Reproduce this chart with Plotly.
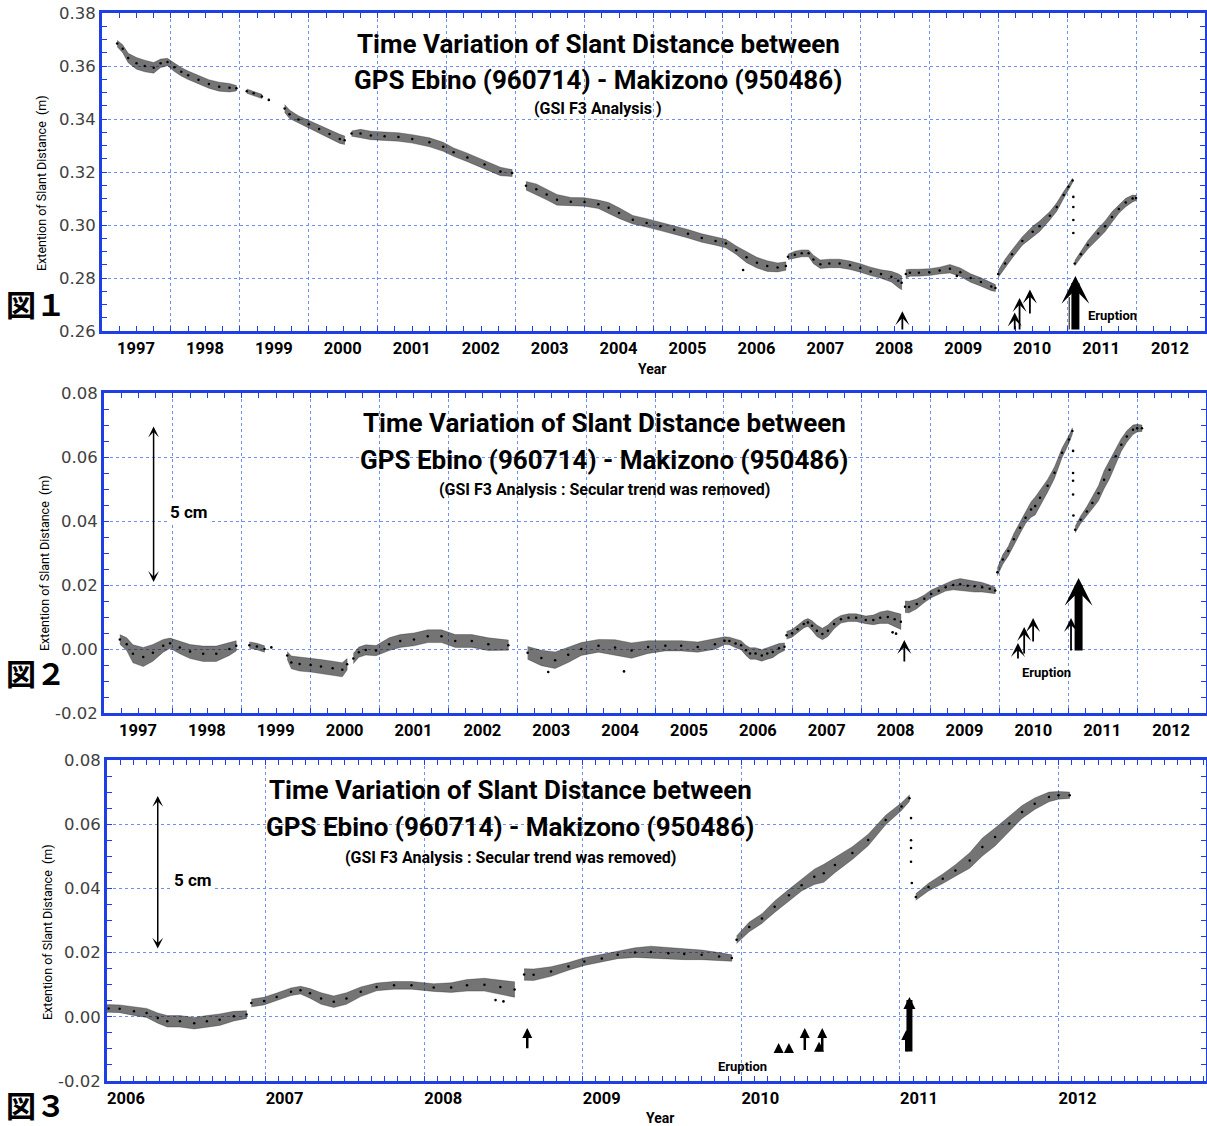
import plotly.graph_objects as go

W, H = 1207, 1126

# ---------------- data ----------------
# Panel 1: raw slant distance (m); None separates observation gaps
raw_year = [1997.22, 1997.30, 1997.38, 1997.50, 1997.62, 1997.75, 1997.85, 1997.95, 1998.05, 1998.15,
            1998.25, 1998.40, 1998.55, 1998.70, 1998.85, 1998.95, None,
            1999.10, 1999.20, 1999.32, None,
            1999.65, 1999.72, 1999.85, 2000.00, 2000.15, 2000.30, 2000.45, 2000.52, None,
            2000.62, 2000.75, 2000.90, 2001.10, 2001.30, 2001.50, 2001.75, 2001.95, 2002.10, 2002.30,
            2002.55, 2002.78, 2002.95, None,
            2003.15, 2003.30, 2003.45, 2003.60, 2003.80, 2004.00, 2004.20, 2004.35, 2004.50, 2004.70,
            2004.90, 2005.10, 2005.30, 2005.50, 2005.70, 2005.90, 2006.05, 2006.20, 2006.35, 2006.50,
            2006.65, 2006.80, 2006.92, None,
            2006.95, 2007.05, 2007.15, 2007.25, 2007.32, 2007.42, 2007.55, 2007.70, 2007.85, 2008.00,
            2008.15, 2008.30, 2008.45, 2008.55, 2008.60, None,
            2008.66, 2008.72, 2008.85, 2009.00, 2009.15, 2009.30, 2009.45, 2009.60, 2009.75, 2009.90,
            2009.96, None,
            2010.00, 2010.10, 2010.20, 2010.35, 2010.50, 2010.60, 2010.75, 2010.85, 2010.95, 2011.02,
            2011.08, None,
            2011.11, 2011.20, 2011.30, 2011.45, 2011.55, 2011.65, 2011.75, 2011.85, 2011.95, 2012.00]
raw_mid = [0.3685, 0.3665, 0.3630, 0.3610, 0.3600, 0.3593, 0.3610, 0.3615, 0.3595, 0.3578,
           0.3565, 0.3548, 0.3532, 0.3522, 0.3518, 0.3516, None,
           0.3505, 0.3497, 0.3485, None,
           0.3440, 0.3418, 0.3398, 0.3380, 0.3362, 0.3343, 0.3325, 0.3320, None,
           0.3345, 0.3345, 0.3338, 0.3335, 0.3332, 0.3325, 0.3312, 0.3295, 0.3275, 0.3255,
           0.3228, 0.3202, 0.3196, None,
           0.3148, 0.3135, 0.3115, 0.3095, 0.3088, 0.3087, 0.3078, 0.3065, 0.3045, 0.3020,
           0.3008, 0.2995, 0.2982, 0.2967, 0.2951, 0.2940, 0.2930, 0.2905, 0.2878, 0.2858,
           0.2845, 0.2840, 0.2845, None,
           0.2880, 0.2888, 0.2893, 0.2893, 0.2870, 0.2852, 0.2855, 0.2855, 0.2848, 0.2838,
           0.2825, 0.2815, 0.2805, 0.2790, 0.2782, None,
           0.2815, 0.2820, 0.2820, 0.2822, 0.2828, 0.2835, 0.2822, 0.2800, 0.2785, 0.2768,
           0.2762, None,
           0.2815, 0.2855, 0.2890, 0.2940, 0.2975, 0.2995, 0.3035, 0.3068, 0.3113, 0.3144,
           0.3168, None,
           0.2855, 0.2890, 0.2925, 0.2968, 0.2995, 0.3030, 0.3060, 0.3085, 0.3100, 0.3102]
raw_spread = [0.0012, 0.0015, 0.0018, 0.0022, 0.0022, 0.0020, 0.0016, 0.0014, 0.0016, 0.0016,
              0.0016, 0.0016, 0.0016, 0.0017, 0.0016, 0.0010, None,
              0.0008, 0.0008, 0.0008, None,
              0.0015, 0.0016, 0.0014, 0.0014, 0.0016, 0.0016, 0.0017, 0.0016, None,
              0.0010, 0.0016, 0.0016, 0.0016, 0.0016, 0.0016, 0.0017, 0.0017, 0.0016, 0.0016,
              0.0016, 0.0016, 0.0013, None,
              0.0016, 0.0020, 0.0020, 0.0020, 0.0016, 0.0016, 0.0016, 0.0020, 0.0020, 0.0016,
              0.0016, 0.0016, 0.0016, 0.0016, 0.0016, 0.0016, 0.0016, 0.0016, 0.0020, 0.0020,
              0.0020, 0.0017, 0.0016, None,
              0.0010, 0.0013, 0.0013, 0.0013, 0.0016, 0.0016, 0.0016, 0.0016, 0.0016, 0.0016,
              0.0016, 0.0016, 0.0020, 0.0026, 0.0026, None,
              0.0016, 0.0013, 0.0013, 0.0013, 0.0013, 0.0016, 0.0016, 0.0016, 0.0016, 0.0016,
              0.0013, None,
              0.0013, 0.0016, 0.0016, 0.0016, 0.0020, 0.0020, 0.0016, 0.0016, 0.0013, 0.0010,
              0.0008, None,
              0.0010, 0.0013, 0.0016, 0.0020, 0.0020, 0.0020, 0.0016, 0.0016, 0.0013, 0.0010]
raw_out_year = [1999.42, 2011.09, 2011.09, 2011.09, 2011.09, 2009.40, 2006.30]
raw_out_val = [0.3472, 0.3106, 0.3068, 0.3019, 0.2970, 0.2808, 0.2830]

# Panels 2 and 3: secular trend removed (m)
det_year = [1997.23, 1997.33, 1997.42, 1997.57, 1997.71, 1997.86, 1997.96, 1998.10, 1998.25, 1998.44,
            1998.63, 1998.82, 1998.92, None,
            1999.11, 1999.22, 1999.33, None,
            1999.66, 1999.72, 1999.84, 2000.00, 2000.15, 2000.32, 2000.46, 2000.53, None,
            2000.62, 2000.70, 2000.80, 2000.95, 2001.14, 2001.30, 2001.50, 2001.70, 2001.90, 2002.10,
            2002.34, 2002.58, 2002.87, None,
            2003.15, 2003.35, 2003.55, 2003.74, 2003.93, 2004.18, 2004.42, 2004.66, 2004.90, 2005.15,
            2005.38, 2005.62, 2005.87, 2006.01, 2006.08, 2006.17, 2006.25, 2006.32, 2006.38, 2006.46,
            2006.55, 2006.63, 2006.71, 2006.80, 2006.88, None,
            2006.91, 2006.99, 2007.07, 2007.16, 2007.22, 2007.28, 2007.35, 2007.43, 2007.51, 2007.60,
            2007.70, 2007.81, 2007.92, 2008.06, 2008.17, 2008.27, 2008.38, 2008.48, 2008.57, None,
            2008.63, 2008.69, 2008.80, 2008.91, 2009.01, 2009.12, 2009.22, 2009.33, 2009.43, 2009.54,
            2009.64, 2009.75, 2009.86, 2009.94, None,
            2009.97, 2010.05, 2010.13, 2010.21, 2010.30, 2010.38, 2010.46, 2010.52, 2010.59, 2010.70,
            2010.80, 2010.91, 2011.01, 2011.06, None,
            2011.10, 2011.18, 2011.27, 2011.35, 2011.44, 2011.52, 2011.60, 2011.69, 2011.77, 2011.85,
            2011.94, 2012.00, 2012.07]
det_mid = [0.0030, 0.0015, -0.0015, -0.0025, -0.0012, 0.0010, 0.0018, 0.0005, -0.0008, -0.0015,
           -0.0015, 0.0000, 0.0010, None,
           0.0012, 0.0008, 0.0000, None,
           -0.0020, -0.0042, -0.0047, -0.0050, -0.0055, -0.0060, -0.0065, -0.0048, None,
           -0.0030, -0.0010, -0.0003, -0.0005, 0.0015, 0.0025, 0.0030, 0.0040, 0.0040, 0.0025,
           0.0025, 0.0015, 0.0012, None,
           -0.0012, -0.0028, -0.0035, -0.0018, 0.0000, 0.0010, 0.0005, -0.0005, 0.0006, 0.0010,
           0.0010, 0.0006, 0.0015, 0.0026, 0.0025, 0.0017, 0.0012, -0.0004, -0.0014, -0.0014,
           -0.0020, -0.0014, -0.0009, 0.0002, 0.0007, None,
           0.0043, 0.0049, 0.0062, 0.0078, 0.0083, 0.0073, 0.0057, 0.0047, 0.0057, 0.0078,
           0.0093, 0.0098, 0.0098, 0.0091, 0.0091, 0.0098, 0.0100, 0.0093, 0.0085, None,
           0.0132, 0.0131, 0.0141, 0.0157, 0.0172, 0.0182, 0.0193, 0.0200, 0.0202, 0.0198,
           0.0196, 0.0193, 0.0188, 0.0183, None,
           0.0240, 0.0280, 0.0306, 0.0343, 0.0379, 0.0410, 0.0436, 0.0447, 0.0473, 0.0510,
           0.0551, 0.0613, 0.0655, 0.0681, None,
           0.0373, 0.0404, 0.0430, 0.0456, 0.0487, 0.0529, 0.0560, 0.0602, 0.0638, 0.0664,
           0.0685, 0.0690, 0.0690]
det_spread = [0.0015, 0.0020, 0.0028, 0.0030, 0.0026, 0.0020, 0.0016, 0.0020, 0.0022, 0.0024,
              0.0024, 0.0020, 0.0016, None,
              0.0010, 0.0010, 0.0010, None,
              0.0012, 0.0020, 0.0022, 0.0022, 0.0022, 0.0022, 0.0022, 0.0018, None,
              0.0016, 0.0016, 0.0016, 0.0016, 0.0020, 0.0020, 0.0020, 0.0020, 0.0020, 0.0020,
              0.0020, 0.0020, 0.0016, None,
              0.0020, 0.0024, 0.0026, 0.0024, 0.0020, 0.0020, 0.0024, 0.0024, 0.0020, 0.0016,
              0.0016, 0.0016, 0.0016, 0.0012, 0.0012, 0.0013, 0.0014, 0.0016, 0.0018, 0.0018,
              0.0018, 0.0018, 0.0018, 0.0015, 0.0012, None,
              0.0012, 0.0012, 0.0012, 0.0012, 0.0012, 0.0015, 0.0018, 0.0018, 0.0018, 0.0015,
              0.0012, 0.0012, 0.0012, 0.0012, 0.0015, 0.0018, 0.0020, 0.0022, 0.0024, None,
              0.0018, 0.0018, 0.0015, 0.0012, 0.0012, 0.0012, 0.0012, 0.0015, 0.0018, 0.0018,
              0.0018, 0.0015, 0.0012, 0.0010, None,
              0.0012, 0.0015, 0.0015, 0.0018, 0.0018, 0.0018, 0.0024, 0.0028, 0.0024, 0.0020,
              0.0018, 0.0015, 0.0012, 0.0010, None,
              0.0010, 0.0012, 0.0015, 0.0018, 0.0024, 0.0028, 0.0028, 0.0024, 0.0020, 0.0018,
              0.0015, 0.0012, 0.0010]
det_out_year = [1999.43, 2011.07, 2011.07, 2011.07, 2011.07, 2011.075, 2008.50, 2008.45, 2004.55, 2003.45]
det_out_val = [0.0005, 0.0619, 0.0550, 0.0526, 0.0483, 0.0417, 0.0048, 0.0052, -0.0070, -0.0072]

# tick labels
years_p12 = list(range(1997, 2013))
years_p3 = list(range(2006, 2013))
p1_yticks = [0.26, 0.28, 0.30, 0.32, 0.34, 0.36, 0.38]
p1_ylabels = ["0.26", "0.28", "0.30", "0.32", "0.34", "0.36", "0.38"]
p23_yticks = [-0.02, 0.00, 0.02, 0.04, 0.06, 0.08]
p23_ylabels = ["-0.02", "0.00", "0.02", "0.04", "0.06", "0.08"]

# event arrows: (year, tip value, tail value)
p1_thin = [(2008.61, 0.2675, 0.2600), (2010.24, 0.2670, 0.2600),
           (2010.31, 0.2725, 0.2600), (2010.46, 0.2757, 0.2660)]
p1_big = [(2011.12, 0.2808, 0.2600)]
p1_lines = [(2011.03, 0.2728, 0.2600)]
p2_thin = [(2008.62, 0.0028, -0.0044), (2010.27, 0.0019, -0.0034),
           (2010.36, 0.0069, -0.0019), (2010.49, 0.0097, 0.0019),
           (2011.04, 0.0097, -0.0009)]
p2_big = [(2011.15, 0.0222, -0.0009)]
p3_thin = [(2008.65, -0.0035, -0.0103), (2010.235, -0.0082, -0.0110),
           (2010.30, -0.0082, -0.0110), (2010.40, -0.0035, -0.0108),
           (2010.51, -0.0035, -0.0110), (2010.49, -0.0078, -0.0112),
           (2011.04, -0.0041, -0.0113)]
p3_big = [(2011.06, 0.0062, -0.0113)]

TITLE1 = "Time Variation of Slant Distance between"
TITLE2 = "GPS Ebino (960714) - Makizono (950486)"
SUB1 = "(GSI F3 Analysis )"
SUB2 = "(GSI F3 Analysis : Secular trend was removed)"
YTITLE = "Extention of Slant Distance  (m)"

# ---------------- styling ----------------
BLUE = "#1e3fe6"
GRID = "#6f8ff2"
COND = "Roboto, Liberation Sans, sans-serif"
TICKF = "DejaVu Sans, Verdana, sans-serif"
CJK = "Noto Sans CJK JP, Noto Sans CJK SC, sans-serif"


def px(x):
    return x / W


def py(y):
    return 1 - y / H


def segments(xs, ms, ss):
    assert len(xs) == len(ms) == len(ss)
    out, cur = [], []
    for x, m, s in zip(xs, ms, ss):
        if x is None:
            if cur:
                out.append(cur)
            cur = []
        else:
            cur.append((x, m, s))
    if cur:
        out.append(cur)
    return out


fig = go.Figure()


def add_series(xs, ms, ss, ox, oy, xa, ya):
    for seg in segments(xs, ms, ss):
        sx = [p[0] for p in seg]
        hi = [p[1] + p[2] for p in seg]
        lo = [p[1] - p[2] for p in seg]
        fig.add_trace(go.Scatter(
            x=sx + sx[::-1], y=hi + lo[::-1], xaxis=xa, yaxis=ya,
            mode="lines", line=dict(width=0.6, color="rgba(0,0,0,0.45)"), fill="toself",
            fillcolor="rgba(30,30,30,0.62)",
            hoverinfo="skip", showlegend=False))
        fig.add_trace(go.Scatter(
            x=sx, y=[p[1] for p in seg], xaxis=xa, yaxis=ya, mode="markers",
            marker=dict(size=2.5, color="black"), showlegend=False))
    fig.add_trace(go.Scatter(x=ox, y=oy, xaxis=xa, yaxis=ya, mode="markers",
                             marker=dict(size=2.6, color="black"), showlegend=False))


add_series(raw_year, raw_mid, raw_spread, raw_out_year, raw_out_val, "x", "y")
add_series(det_year, det_mid, det_spread, det_out_year, det_out_val, "x2", "y2")
add_series(det_year, det_mid, det_spread, det_out_year, det_out_val, "x3", "y3")


def xaxis(dom, rng, years, minor_dt, shift, anchor):
    return dict(domain=dom, range=rng, anchor=anchor, automargin=False,
                tickmode="array", tickvals=years,
                ticktext=[str(v) for v in years], ticklabelshift=shift, ticklabelstandoff=0,
                showline=True, mirror="ticks", linecolor=BLUE, linewidth=3,
                ticks="inside", ticklen=5, tickcolor=BLUE, tickwidth=1,
                showgrid=True, gridcolor=GRID, griddash="dot", gridwidth=1,
                zeroline=False,
                minor=dict(tickmode="linear", tick0=rng[0], dtick=minor_dt, ticks="inside",
                           ticklen=5, tickcolor=BLUE, tickwidth=1, showgrid=False),
                tickfont=dict(family=COND, size=16.5, color="black", weight="bold"))


def yaxis(dom, rng, vals, labels, anchor):
    return dict(domain=dom, range=rng, anchor=anchor, automargin=False,
                tickmode="array", tickvals=vals, ticktext=labels,
                showline=True, mirror="ticks", linecolor=BLUE, linewidth=3,
                ticks="inside", ticklen=5, tickcolor=BLUE, tickwidth=1,
                showgrid=True, gridcolor=GRID, griddash="dot", gridwidth=1, zeroline=False,
                minor=dict(tickmode="linear", tick0=rng[0], dtick=0.005, ticks="inside",
                           ticklen=5, tickcolor=BLUE, tickwidth=1, showgrid=False),
                tickfont=dict(family=TICKF, size=16.5, color="#404040"))


fig.update_layout(
    width=W, height=H, margin=dict(l=0, r=0, t=0, b=0, autoexpand=False),
    paper_bgcolor="white", plot_bgcolor="white", showlegend=False, hovermode=False,
    xaxis=xaxis([px(102), px(1205)], [1997, 2013], years_p12, 0.25, 34, "y"),
    yaxis=yaxis([py(331), py(13)], [0.26, 0.38], p1_yticks, p1_ylabels, "x"),
    xaxis2=xaxis([px(104), px(1206)], [1997, 2013], years_p12, 0.25, 34, "y2"),
    yaxis2=yaxis([py(713), py(393)], [-0.02, 0.08], p23_yticks, p23_ylabels, "x2"),
    xaxis3=xaxis([px(107), px(1206)], [2006, 2012.93], years_p3, 1 / 12, 19, "y3"),
    yaxis3=yaxis([py(1081), py(760)], [-0.02, 0.08], p23_yticks, p23_ylabels, "x3"),
)

shapes = []
for (x0, y0, x1, y1) in [(355, 15, 845, 122), (358, 395, 852, 502), (265, 762, 757, 870)]:
    shapes.append(dict(type="rect", xref="paper", yref="paper", x0=px(x0), x1=px(x1),
                       y0=py(y1), y1=py(y0), fillcolor="white", line=dict(width=0),
                       layer="between"))
fig.update_layout(shapes=shapes)

ann = []


def text(x, y, s, size, family=COND, weight="bold", angle=0, color="black"):
    ann.append(dict(xref="paper", yref="paper", x=px(x), y=py(y), text=s, showarrow=False,
                    font=dict(family=family, size=size, color=color, weight=weight),
                    textangle=angle, xanchor="center", yanchor="middle"))


# titles
for (cx, y1, y2, y3, sub) in [(598, 44, 80, 109, SUB1), (604, 423, 460, 489, SUB2),
                              (510, 790, 827, 857, SUB2)]:
    text(cx, y1, TITLE1, 26)
    text(cx, y2, TITLE2, 26)
    text(cx, y3, sub, 16)

# y axis titles
text(42, 183, YTITLE, 12.5, weight="normal", angle=-90)
text(44, 563, YTITLE, 12.5, weight="normal", angle=-90)
text(47, 932, YTITLE, 12.5, weight="normal", angle=-90)
# x axis titles
text(652, 369, "Year", 14)
text(660, 1118, "Year", 14)
# figure labels
text(36, 303, "図１", 30, family=CJK, weight="bold")
text(36, 672, "図２", 30, family=CJK, weight="bold")
text(36, 1104, "図３", 30, family=CJK, weight="bold")


def arrow(xa, ya, x, tip, tail, width, head, size, side="end"):
    ann.append(dict(xref=xa, yref=ya, axref=xa, ayref=ya, x=x, y=tip, ax=x, ay=tail,
                    showarrow=True, arrowhead=head, arrowsize=size, arrowwidth=width,
                    arrowcolor="black", text="", arrowside=side, startarrowhead=head,
                    startarrowsize=size))


for (x, t, b) in p1_thin:
    arrow("x", "y", x, t, b, 1.8, 3, 1.3)
for (x, t, b) in p1_big:
    arrow("x", "y", x, t, b, 8, 3, 0.58)
for (x, t, b) in p1_lines:
    arrow("x", "y", x, t, b, 1, 0, 1)
for (x, t, b) in p2_thin:
    arrow("x2", "y2", x, t, b, 1.8, 3, 1.3)
for (x, t, b) in p2_big:
    arrow("x2", "y2", x, t, b, 8, 3, 0.58)
for (x, t, b) in p3_thin:
    arrow("x3", "y3", x, t, b, 2.5, 2, 0.8)
for (x, t, b) in p3_big:
    arrow("x3", "y3", x, t, b, 6, 2, 0.4)

# 5 cm double arrows
arrow("x2", "y2", 1997.72, 0.0695, 0.0205, 1.5, 3, 1.2, side="end+start")
arrow("x3", "y3", 2006.32, 0.0688, 0.0208, 1.5, 3, 1.2, side="end+start")

for (xa, ya, x, y) in [("x2", "y2", 1998.24, 0.0428), ("x3", "y3", 2006.54, 0.0426)]:
    ann.append(dict(xref=xa, yref=ya, x=x, y=y, text="5 cm", showarrow=False,
                    font=dict(family=COND, size=17, color="black", weight="bold"),
                    bgcolor="white"))
for (xa, ya, x, y) in [("x", "y", 2011.66, 0.2657), ("x2", "y2", 2010.69, -0.0072),
                       ("x3", "y3", 2010.01, -0.0156)]:
    ann.append(dict(xref=xa, yref=ya, x=x, y=y, text="Eruption", showarrow=False,
                    font=dict(family=COND, size=13, color="black", weight="bold")))

fig.update_layout(annotations=ann)
fig.write_html("out.html", config={"displayModeBar": False},
               post_script="document.body.style.margin='0px';"
                           "document.body.style.overflow='hidden';"
                           "document.documentElement.style.overflow='hidden';")
